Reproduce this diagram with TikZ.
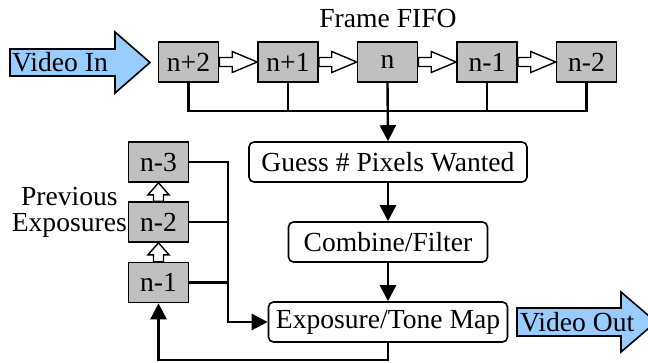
\documentclass[tikz,border=0pt]{standalone}
\usepackage{fontspec}
\setmainfont{Liberation Serif}
\usetikzlibrary{positioning, arrows.meta, calc}
\definecolor{SlotGry}{HTML}{C0C0C0}
\definecolor{PortBlu}{HTML}{99CCFF}

\begin{document}
\begin{tikzpicture}[
  x=1pt, y=-1pt,
  font=\fontsize{27.6}{26}\selectfont, >={Triangle[length=16pt, width=16pt]},
  every node/.style={align=center},
  slot/.style   = {draw, fill=SlotGry, line width=1.6pt, inner sep=0pt,
                   minimum width=60pt, minimum height=40pt},
  proc/.style   = {draw, fill=white, rounded corners=5pt, line width=1.6pt,
                   inner sep=0pt, minimum height=40pt},
  pass/.style   = {draw, fill=white, line width=1.4pt, line join=miter},
  port/.style   = {draw, fill=PortBlu, line width=1.6pt, line join=miter},
  tag/.style    = {anchor=west, inner sep=0pt},
  wire/.style   = {line width=2.4pt},
  flow/.style   = {wire, ->},
]
\useasboundingbox (0,0) rectangle (648,362);
\clip (0,0) rectangle (648,362);

% ── Frame FIFO ────────────────────────────────────────────────────────────────
\node (fifo) at (388,18) {Frame FIFO};
\foreach \lbl [count=\i] in {n+2,n+1,n,n-1,n-2}
  \node[slot] (f\i) at ({188.5+99.5*(\i-1)},62) {\lbl};
% hollow shift arrows between frames
\foreach \i/\j in {1/2,2/3,3/4,4/5}
  \draw[pass] ($(f\i.east)+(0,-4.5)$) -- ($(f\j.west)+(-25,-4.5)$) -- ++(0,-6)
    -- (f\j.west) -- ($(f\j.west)+(-25,10.5)$) -- ++(0,-6)
    -- ($(f\i.east)+(0,4.5)$) -- cycle;

\draw[port] (10,49) -- ++(105,0) -- ++(0,-17) -- ++(35,30.5) -- ++(-35,30.5)
  -- ++(0,-17) -- ++(-105,0) -- cycle;
\node[tag] (vin) at (12,62.5) {Video In};

% ── Processing chain ──────────────────────────────────────────────────────────
\node[proc, minimum width=278pt] (guess) at (388,162) {Guess \# Pixels Wanted};
\node[proc, minimum width=199pt] (comb)  at (388,242) {Combine/Filter};
\node[proc, minimum width=239pt] (tone)  at (388,322) {Exposure/Tone Map};

\draw[port] (517,308) -- ++(104,0) -- ++(0,-16) -- ++(35,30) -- ++(-35,30)
  -- ++(0,-16) -- ++(-104,0) -- cycle;
\node[tag] (vout) at (520,322.5) {Video Out};

% ── Previous exposures ────────────────────────────────────────────────────────
\foreach \lbl/\y [count=\i] in {n-1/282.5, n-2/222, n-3/162}
  \node[slot] (p\i) at (158.5,\y) {\lbl};
\foreach \i/\j in {1/2,2/3}
  \draw[pass] ($(p\i.north)+(-5,0)$) -- ($(p\j.south)+(-5,12)$) -- ++(-5.5,0)
    -- (p\j.south) -- ($(p\j.south)+(10.5,12)$) -- ++(-5.5,0)
    -- ($(p\i.north)+(5,0)$) -- cycle;
\node[anchor=east, inner sep=0pt] (prev) at (127,212) {Previous\\Exposures};

% ── Connectors ────────────────────────────────────────────────────────────────
\coordinate (bus) at (388,111);
\draw[wire] (f1.south) -- (f1.south |- bus) -- (f5.south |- bus) -- (f5.south);
\foreach \i in {2,4}
  \draw[wire] (f\i.south) -- (f\i.south |- bus);
\draw[flow] (f3.south) -- (guess.north);
\draw[flow] (guess) -- (comb);
\draw[flow] (comb)  -- (tone);

\coordinate (merge) at (228,322);
\draw[flow] (p3.east) -| (merge) -- (tone.west);
\foreach \i in {1,2}
  \draw[wire] (p\i.east) -- (p\i.east -| merge);
\draw[flow] (tone.south) -- ++(0,17) -| (p1.south);

\end{tikzpicture}
\end{document}
